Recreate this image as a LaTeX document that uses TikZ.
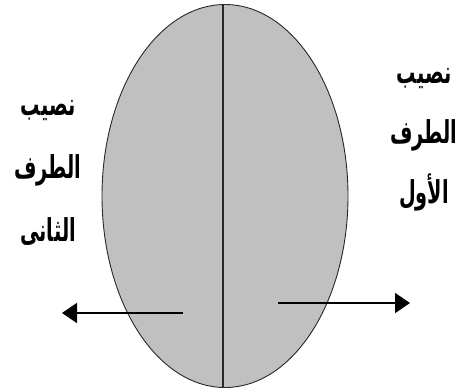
\documentclass[tikz,border=0pt]{standalone}
\usepackage{fontspec}
\usepackage{tikz}
\usetikzlibrary{shapes.geometric, arrows.meta, positioning, calc}
\TeXXeTstate=1
\newfontfamily\arabicfont[Script=Arabic]{DejaVu Sans}
\definecolor{shareGray}{RGB}{192, 192, 192}
\definecolor{rimGray}{RGB}{40, 40, 40}

\begin{document}
\begin{tikzpicture}[x=1pt, y=-1pt,
    sharelabel/.style={font=\arabicfont\bfseries\fontsize{21}{42}\selectfont, align=center, inner sep=0pt,
                       xscale=0.92, yscale=1.5, transform shape},
    pullarrow/.style={-{Triangle[length=15pt, width=20pt]}, line width=1.6pt}]

    % 1. FRAME (fixes the margins)
    \useasboundingbox (0,0) rectangle (460,391);
    \clip (0,0) rectangle (460,391);

    % 2. THE SHARED WHOLE
    \node[ellipse, draw=rimGray, line width=0.9pt, fill=shareGray,
          minimum width=246pt, minimum height=383pt, inner sep=0pt] (whole) at (225,196) {};
    \draw[rimGray, line width=1.1pt] (223,5) -- (223,388);

    % 3. ARROWS (pulling each half apart)
    \coordinate (leftStart) at (183,313);
    \coordinate (leftEnd) at (62,313);
    \coordinate (rightStart) at (278,303);
    \coordinate (rightEnd) at (410,303);
    \draw[pullarrow] (leftStart) -- (leftEnd);
    \draw[pullarrow] (rightStart) -- (rightEnd);

    % 4. LABELS
    \node[sharelabel] (secondShare) at (48,173) {\beginR نصيب\endR\\\beginR الطرف\endR\\\beginR الثانى\endR};
    \node[sharelabel, font=\arabicfont\bfseries\fontsize{21}{40}\selectfont] (firstShare) at (424,140)
        {\beginR نصيب\endR\\\beginR الطرف\endR\\\beginR الأول\endR};

\end{tikzpicture}
\end{document}
